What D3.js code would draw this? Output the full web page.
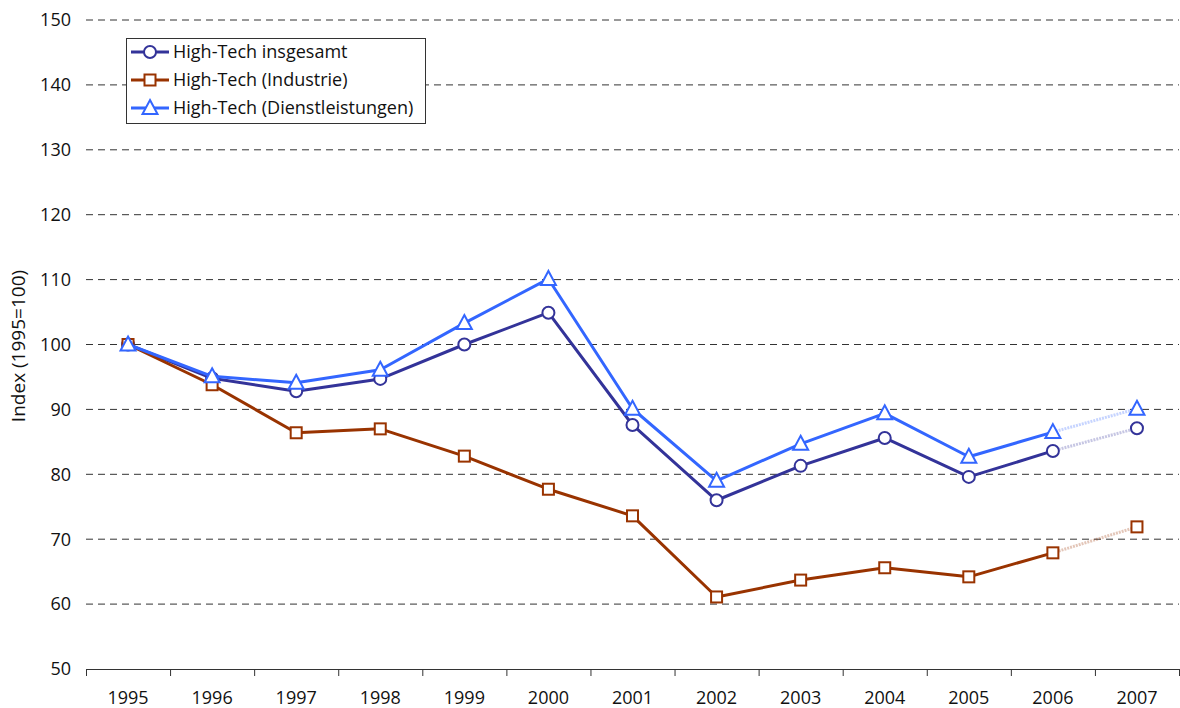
<!DOCTYPE html>
<html>
  <head>
    <meta charset="UTF-8" />
    <script src="https://d3js.org/d3.v7.min.js"></script>
    <style>
      body { margin: 0; background: #fff; }
      text { font-family: "Open Sans", "Noto Sans", sans-serif; fill: #111; }
    </style>
  </head>
  <body>
    <svg width="1180" height="708"></svg>

    <script>
      const years = ["1995", "1996", "1997", "1998", "1999", "2000", "2001",
                     "2002", "2003", "2004", "2005", "2006", "2007"];
      const insgesamt = [100, 94.8, 92.8, 94.7, 100, 104.9, 87.6, 76.0, 81.3, 85.6, 79.6, 83.6, 87.1];
      const industrie = [100, 93.8, 86.4, 87.0, 82.8, 77.7, 73.6, 61.1, 63.7, 65.6, 64.2, 67.9, 71.9];
      const dienst = [100, 95.1, 94.1, 96.1, 103.3, 110.1, 90.1, 79.0, 84.7, 89.4, 82.7, 86.5, 90.1];
      const yTicks = [50, 60, 70, 80, 90, 100, 110, 120, 130, 140, 150];

      const series = [
        { name: "High-Tech insgesamt", values: insgesamt, color: "#333399", marker: "circle" },
        { name: "High-Tech (Industrie)", values: industrie, color: "#993300", marker: "square" },
        { name: "High-Tech (Dienstleistungen)", values: dienst, color: "#3366ff", marker: "triangle" }
      ];

      const svg = d3.select("svg");

      const x = d3.scaleBand().domain(years).range([86, 1179]);
      const y = d3.scaleLinear().domain([50, 150]).range([669, 20]);
      const cx = d => x(d) + x.bandwidth() / 2;

      // gridlines
      svg.append("g")
        .selectAll("line")
        .data(yTicks.filter(t => t > 50))
        .enter()
        .append("line")
        .attr("x1", 86)
        .attr("x2", 1179)
        .attr("y1", d => y(d))
        .attr("y2", d => y(d))
        .attr("stroke", "#333")
        .attr("stroke-width", 1)
        .attr("stroke-dasharray", "7,5");

      // y labels
      svg.append("g")
        .selectAll("text")
        .data(yTicks)
        .enter()
        .append("text")
        .attr("x", 71)
        .attr("y", d => y(d))
        .attr("dy", "0.35em")
        .attr("text-anchor", "end")
        .style("font-size", "18px")
        .text(d => d);

      // x axis
      const xAxis = d3.axisBottom(x).tickSize(0).tickPadding(22);
      const xg = svg.append("g").attr("transform", "translate(0,669)").call(xAxis);
      xg.select(".domain").attr("stroke", "#333");
      xg.selectAll("text").style("font-size", "18px").style("font-family", "'Open Sans', sans-serif").attr("fill", "#111");
      // boundary ticks between categories
      const bounds = years.map(d => x(d)).concat([1179]);
      xg.selectAll(".bt")
        .data(bounds)
        .enter()
        .append("line")
        .attr("x1", d => d + 0.5)
        .attr("x2", d => d + 0.5)
        .attr("y1", 0)
        .attr("y2", 7)
        .attr("stroke", "#333");

      // y title
      svg.append("text")
        .attr("transform", "translate(25,346) rotate(-90)")
        .attr("text-anchor", "middle")
        .style("font-size", "19px")
        .text("Index (1995=100)");

      const line = d3.line().x(d => cx(d.year)).y(d => y(d.v));

      function drawMarker(g, m, color, px, py) {
        if (m === "circle") {
          g.append("circle").attr("cx", px).attr("cy", py).attr("r", 6)
            .attr("fill", "#fff").attr("stroke", color).attr("stroke-width", 2);
        } else if (m === "square") {
          g.append("rect").attr("x", px - 5.5).attr("y", py - 5.5).attr("width", 11).attr("height", 11)
            .attr("fill", "#fff").attr("stroke", color).attr("stroke-width", 2);
        } else {
          g.append("path")
            .attr("d", `M${px},${py - 8}L${px + 7.5},${py + 6}L${px - 7.5},${py + 6}Z`)
            .attr("fill", "#fff").attr("stroke", color).attr("stroke-width", 2);
        }
      }

      series.forEach(s => {
        const pts = years.map((yr, i) => ({ year: yr, v: s.values[i] }));
        const g = svg.append("g");
        g.append("path")
          .datum(pts.slice(0, pts.length - 1))
          .attr("d", line)
          .attr("fill", "none")
          .attr("stroke", s.color)
          .attr("stroke-width", 3)
          .attr("stroke-linejoin", "round");
        // faded estimate segment
        g.append("path")
          .datum(pts.slice(pts.length - 2))
          .attr("d", line)
          .attr("fill", "none")
          .attr("stroke", s.color)
          .attr("stroke-opacity", 0.28)
          .attr("stroke-width", 3)
          .attr("stroke-dasharray", "2,1");
        s.g = g;
        s.pts = pts;
      });
      series.forEach(s => {
        s.pts.forEach(p => drawMarker(s.g, s.marker, s.color, cx(p.year), y(p.v)));
      });

      // legend
      const lg = svg.append("g").attr("transform", "translate(126,38)");
      lg.append("rect").attr("x", 0.5).attr("y", 0.5).attr("width", 299).attr("height", 85)
        .attr("fill", "#fff").attr("stroke", "#333").attr("stroke-width", 1);
      series.forEach((s, i) => {
        const ly = 14 + i * 28;
        lg.append("line").attr("x1", 5).attr("x2", 43).attr("y1", ly).attr("y2", ly)
          .attr("stroke", s.color).attr("stroke-width", 3);
        drawMarker(lg, s.marker, s.color, 24, ly);
        lg.append("text").attr("x", 47).attr("y", ly).attr("dy", "0.35em")
          .style("font-size", "18px").text(s.name);
      });
    </script>
  </body>
</html>
